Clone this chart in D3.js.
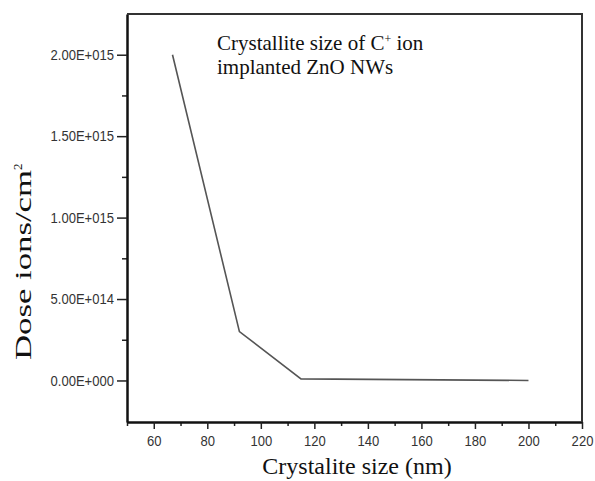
<!DOCTYPE html>
<html>
<head>
<meta charset="utf-8">
<script src="https://cdn.jsdelivr.net/npm/d3@7"></script>
<style>
  body { margin: 0; background: #fff; }
  .tick text { font-family: "Liberation Sans", Arial, sans-serif; font-size: 15px; fill: #333; }
</style>
</head>
<body>
<script>
// data
const crystalliteSize = [67, 92, 115, 200];
const dose = [2.0e15, 3.0e14, 1.0e13, 0];
const xTicks = [60, 80, 100, 120, 140, 160, 180, 200, 220];
const yTicks = [0, 5e14, 1e15, 1.5e15, 2e15];
const yTickLabels = ['0.00E+000', '5.00E+014', '1.00E+015', '1.50E+015', '2.00E+015'];

const width = 595, height = 481;
const margin = {left: 127, right: 13, top: 14, bottom: 59};
const serif = '"Liberation Serif", "Times New Roman", serif';

const svg = d3.select('body').append('svg')
  .attr('width', width)
  .attr('height', height);

const x = d3.scaleLinear()
  .domain([50, 220])
  .range([margin.left, width - margin.right]);

const y = d3.scaleLinear()
  .domain([-2.55e14, 2.25e15])
  .range([height - margin.bottom, margin.top]);

// narrow tick labels, like the original
function narrow(g) {
  g.selectAll('.tick text').each(function() {
    const w = this.getComputedTextLength();
    d3.select(this).attr('textLength', w * 0.87).attr('lengthAdjust', 'spacingAndGlyphs');
  });
}

// minor ticks
svg.append('g')
  .attr('transform', `translate(0,${height - margin.bottom})`)
  .call(d3.axisBottom(x).tickValues(d3.range(50, 221, 10).filter(v => v % 20 !== 0)).tickSize(4).tickFormat(''))
  .call(g => g.select('.domain').remove())
  .call(g => g.selectAll('line').attr('stroke', '#222').attr('stroke-width', 1.5));

svg.append('g')
  .attr('transform', `translate(${margin.left},0)`)
  .call(d3.axisLeft(y).tickValues([2.5e14, 7.5e14, 1.25e15, 1.75e15]).tickSize(5).tickFormat(''))
  .call(g => g.select('.domain').remove())
  .call(g => g.selectAll('line').attr('stroke', '#222').attr('stroke-width', 1.5));

// major axes
svg.append('g')
  .attr('transform', `translate(0,${height - margin.bottom})`)
  .call(d3.axisBottom(x).tickValues(xTicks).tickSize(7).tickSizeOuter(0).tickPadding(6))
  .call(g => g.select('.domain').attr('stroke', '#111').attr('stroke-width', 2.5))
  .call(g => g.selectAll('line').attr('stroke', '#222').attr('stroke-width', 1.5))
  .call(narrow);

svg.append('g')
  .attr('transform', `translate(${margin.left},0)`)
  .call(d3.axisLeft(y).tickValues(yTicks).tickFormat((d, i) => yTickLabels[i]).tickSize(10).tickSizeOuter(0).tickPadding(3))
  .call(g => g.select('.domain').attr('stroke', '#111').attr('stroke-width', 2.5))
  .call(g => g.selectAll('line').attr('stroke', '#222').attr('stroke-width', 1.5))
  .call(narrow);

// top and right frame
svg.append('path')
  .attr('d', `M${x(50)},${y.range()[1]}H${x(220)}V${y.range()[0]}`)
  .attr('fill', 'none')
  .attr('stroke', '#333')
  .attr('stroke-width', 2);

// data line
const line = d3.line()
  .x(d => x(d[0]))
  .y(d => y(d[1]));

svg.append('path')
  .datum(crystalliteSize.map((v, i) => [v, dose[i]]))
  .attr('d', line)
  .attr('fill', 'none')
  .attr('stroke', '#555')
  .attr('stroke-width', 1.6);

// annotation
const note = svg.append('text')
  .attr('x', 217)
  .attr('y', 50)
  .style('font-family', serif)
  .style('font-size', '21px')
  .attr('fill', '#111');
note.append('tspan').text('Crystallite size of C');
note.append('tspan').attr('dy', -7).style('font-size', '12px').text('+');
note.append('tspan').attr('dy', 7).text(' ion');
note.append('tspan').attr('x', 217).attr('dy', 24).text('implanted ZnO NWs');

// axis titles
svg.append('text')
  .attr('x', 357)
  .attr('y', 474)
  .attr('text-anchor', 'middle')
  .style('font-family', serif)
  .style('font-size', '24px')
  .attr('fill', '#111')
  .text('Crystalite size (nm)');

const yl = svg.append('text')
  .attr('transform', 'translate(31,360) rotate(-90)')
  .style('font-family', serif)
  .style('font-size', '24px')
  .attr('fill', '#111');
yl.append('tspan')
  .attr('textLength', 190)
  .attr('lengthAdjust', 'spacingAndGlyphs')
  .text('Dose ions/cm');
yl.append('tspan').attr('dy', -9).style('font-size', '13px').text('2');
</script>
</body>
</html>
